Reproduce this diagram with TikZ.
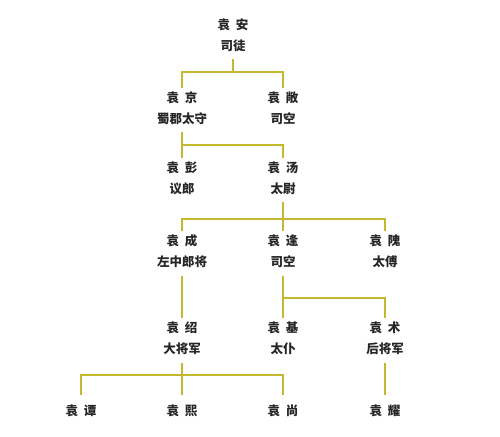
\documentclass[tikz,border=0pt]{standalone}
\usepackage{fontspec}
\newfontfamily\cjk{Noto Sans CJK SC}
\definecolor{linecol}{RGB}{196,184,48}
\begin{document}
\begin{tikzpicture}[x=1pt,y=-1pt,
  person/.style={font=\cjk\bfseries\fontsize{12.5}{21}\selectfont, align=center, inner xsep=2pt, inner ysep=3.5pt, text=black!85},
  leaf/.style={person, inner ysep=10pt},
  link/.style={draw=linecol, line width=1.6pt},
  fromup/.style={shorten <=4pt}]
\path[use as bounding box, fill=white] (0,0) rectangle (500,436);
\newcommand{\nm}[2]{#1\hspace{0.45em}#2}
% nodes
\node[person] (an) at (233,35) {\nm{袁}{安}\\司徒};
\node[person] (jing) at (182,108) {\nm{袁}{京}\\蜀郡太守};
\node[person] (chang) at (283,108) {\nm{袁}{敞}\\司空};
\node[person] (peng) at (182,178) {\nm{袁}{彭}\\议郎};
\node[person] (tang) at (283,178) {\nm{袁}{汤}\\太尉};
\node[person] (cheng) at (182,251.5) {\nm{袁}{成}\\左中郎将};
\node[person] (feng) at (283,251.5) {\nm{袁}{逢}\\司空};
\node[person] (wei) at (385,251.5) {\nm{袁}{隗}\\太傅};
\node[person] (shao) at (182,338.5) {\nm{袁}{绍}\\大将军};
\node[person] (ji) at (283,338.5) {\nm{袁}{基}\\太仆};
\node[person] (shu) at (385,338.5) {\nm{袁}{术}\\后将军};
\node[leaf] (tan) at (81,411) {\nm{袁}{谭}};
\node[leaf] (xi) at (182,411) {\nm{袁}{熙}};
\node[leaf] (shang) at (283,411) {\nm{袁}{尚}};
\node[leaf] (yao) at (385,411) {\nm{袁}{耀}};
% bus points
\coordinate (b1) at (233,72);
\coordinate (b2) at (182,145);
\coordinate (b3) at (283,219);
\coordinate (b4) at (283,298);
\coordinate (b5) at (182,375);
% connectors
\draw[link,fromup] (an.south) -- (b1);
\draw[link] (jing.north) |- (b1) -| (chang.north);
\draw[link,fromup] (jing.south) -- (b2);
\draw[link] (peng.north) -- (b2) -| (tang.north);
\draw[link,fromup] (tang.south) -- (b3);
\draw[link] (cheng.north) |- (b3) -| (wei.north);
\draw[link] (b3) -- (feng.north);
\draw[link,fromup] (cheng.south) -- (shao.north);
\draw[link,fromup] (feng.south) -- (b4);
\draw[link] (b4) -- (ji.north);
\draw[link] (b4) -| (shu.north);
\draw[link,fromup] (shao.south) -- (xi.north);
\draw[link] (tan.north) |- (b5) -| (shang.north);
\draw[link,fromup] (shu.south) -- (yao.north);
\end{tikzpicture}
\end{document}
